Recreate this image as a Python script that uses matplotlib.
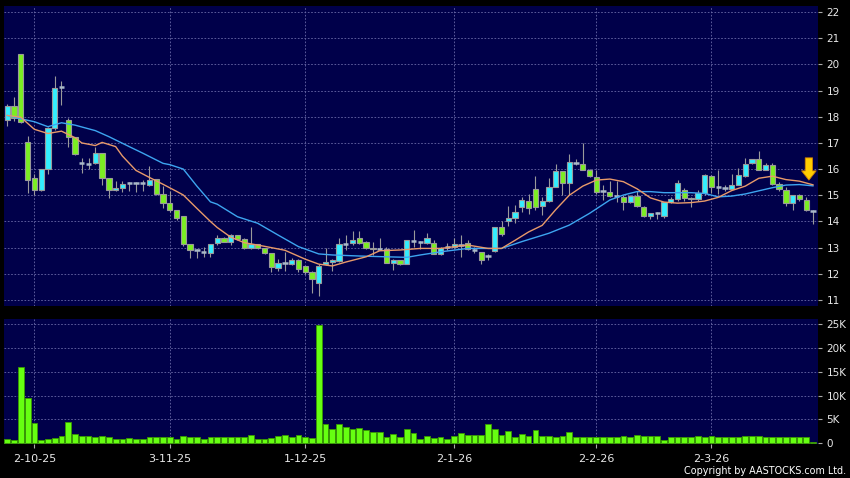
import numpy as np
import matplotlib
matplotlib.use('Agg')
import matplotlib.pyplot as plt
from matplotlib.patches import FancyArrowPatch
from matplotlib.ticker import FuncFormatter

# daily OHLC
opens = [17.88, 18.40, 20.38, 17.05, 15.67, 15.19, 15.99, 17.56, 19.13, 17.89,
         17.23, 16.22, 16.20, 16.22, 16.60, 15.67, 15.19, 15.27, 15.47, 15.47,
         15.46, 15.39, 15.64, 15.04, 14.70, 14.42, 14.19, 13.13, 12.91, 12.82,
         12.79, 13.17, 13.36, 13.21, 13.47, 13.33, 12.99, 13.12, 12.99, 12.79,
         12.23, 12.42, 12.38, 12.54, 12.28, 12.06, 11.65, 12.38, 12.44, 12.49,
         13.13, 13.18, 13.35, 13.23, 12.95, 12.96, 12.96, 12.42, 12.51, 12.38,
         13.26, 13.22, 13.19, 13.19, 12.77, 13.03, 13.03, 13.09, 13.18, 12.92,
         12.83, 12.67, 12.87, 13.77, 14.00, 14.15, 14.54, 14.79, 15.23, 14.59,
         14.79, 15.33, 15.91, 15.46, 16.23, 16.18, 15.95, 15.69, 15.18, 15.14,
         14.97, 14.95, 14.76, 14.97, 14.56, 14.21, 14.31, 14.21, 14.76, 14.86,
         15.21, 14.91, 14.85, 15.08, 15.74, 15.31, 15.26, 15.23, 15.40, 15.74,
         16.23, 16.38, 15.97, 16.15, 15.44, 15.21, 14.69, 15.00, 14.82, 14.41]
highs = [18.50, 18.75, 20.40, 17.28, 15.80, 16.00, 17.60, 19.57, 19.36, 17.95,
         17.23, 16.41, 16.41, 16.86, 16.60, 15.67, 15.55, 15.55, 15.50, 15.50,
         15.59, 16.13, 15.64, 15.36, 15.18, 14.45, 14.19, 13.13, 12.94, 13.04,
         13.12, 13.49, 13.40, 13.52, 13.50, 13.35, 13.78, 13.15, 13.00, 12.79,
         12.55, 12.82, 12.60, 12.56, 12.30, 12.10, 12.38, 13.00, 12.55, 13.35,
         13.48, 13.64, 13.64, 13.25, 13.20, 13.37, 13.03, 12.55, 12.52, 13.30,
         13.67, 13.26, 13.57, 13.28, 13.02, 13.18, 13.38, 13.50, 13.28, 13.03,
         12.85, 12.77, 13.78, 14.03, 14.59, 14.62, 14.95, 15.05, 15.74, 14.95,
         15.65, 16.19, 15.91, 16.59, 16.38, 17.00, 16.00, 15.95, 15.40, 15.55,
         15.55, 15.00, 15.00, 15.17, 14.60, 14.34, 14.37, 14.76, 14.95, 15.60,
         15.28, 14.95, 15.20, 15.82, 15.78, 15.97, 15.40, 15.83, 16.03, 16.43,
         16.40, 16.68, 16.23, 16.25, 15.52, 15.31, 15.02, 15.05, 14.95, 14.45]
lows = [17.65, 17.85, 17.75, 15.10, 15.00, 15.15, 15.80, 17.50, 18.45, 16.86,
        16.55, 15.84, 16.00, 16.20, 15.39, 14.91, 15.15, 15.14, 15.17, 15.14,
        15.15, 15.34, 15.00, 14.50, 14.35, 14.05, 13.07, 12.60, 12.60, 12.66,
        12.63, 13.10, 13.20, 13.10, 13.30, 12.95, 12.95, 12.95, 12.75, 12.08,
        12.12, 12.12, 12.35, 12.06, 12.00, 11.26, 11.17, 12.35, 12.09, 12.45,
        12.90, 13.10, 13.15, 12.95, 12.70, 12.90, 12.40, 12.15, 12.35, 12.36,
        13.03, 12.96, 13.15, 12.75, 12.72, 12.90, 13.00, 12.65, 12.90, 12.79,
        12.38, 12.51, 12.83, 13.45, 13.81, 13.95, 14.38, 14.28, 14.45, 14.25,
        14.75, 15.30, 15.01, 15.01, 16.15, 15.95, 15.70, 15.05, 14.82, 14.95,
        14.75, 14.45, 14.70, 14.55, 14.16, 14.08, 14.08, 14.14, 14.70, 14.80,
        14.80, 14.54, 14.80, 15.00, 15.10, 15.05, 15.18, 15.20, 15.38, 15.70,
        16.20, 15.95, 15.95, 15.40, 15.18, 14.60, 14.44, 14.80, 14.40, 13.90]
closes = [18.40, 17.96, 17.80, 15.57, 15.19, 15.99, 17.56, 19.08, 19.13, 17.23,
          16.58, 16.22, 16.20, 16.60, 15.67, 15.19, 15.27, 15.42, 15.47, 15.47,
          15.46, 15.57, 15.04, 14.70, 14.42, 14.12, 13.13, 12.91, 12.91, 12.82,
          13.12, 13.36, 13.21, 13.47, 13.33, 12.98, 13.12, 12.99, 12.79, 12.25,
          12.42, 12.42, 12.54, 12.19, 12.06, 11.81, 12.31, 12.45, 12.51, 13.12,
          13.13, 13.28, 13.19, 13.00, 12.99, 12.96, 12.42, 12.51, 12.38, 13.28,
          13.26, 13.22, 13.35, 12.77, 13.00, 13.03, 13.15, 13.09, 12.94, 12.92,
          12.51, 12.67, 13.77, 13.51, 14.15, 14.38, 14.82, 14.50, 14.56, 14.79,
          15.33, 15.91, 15.46, 16.29, 16.23, 15.97, 15.74, 15.13, 15.18, 14.97,
          14.97, 14.76, 14.97, 14.59, 14.21, 14.31, 14.31, 14.76, 14.86, 15.46,
          14.88, 14.85, 15.10, 15.78, 15.31, 15.31, 15.26, 15.40, 15.78, 16.21,
          16.38, 15.97, 16.15, 15.44, 15.23, 14.69, 15.00, 14.85, 14.44, 14.41]
volumes = [900, 700, 16000, 9400, 4300, 600, 800, 1100, 1500, 4500,
           1900, 1500, 1500, 1300, 1500, 1300, 1000, 1000, 1100, 1000,
           1000, 1300, 1300, 1300, 1400, 1000, 1500, 1300, 1300, 800,
           1300, 1300, 1300, 1400, 1300, 1300, 1700, 800, 1000, 1100,
           1500, 1700, 1300, 1800, 1300, 1200, 24800, 4000, 2900, 4100,
           3400, 3000, 3200, 2700, 2400, 2300, 1400, 2000, 1300, 2900,
           2100, 1000, 1500, 1200, 1300, 800, 1500, 2100, 1700, 1700,
           1700, 4100, 3100, 1700, 2600, 1400, 1900, 1500, 2800, 1500,
           1500, 1400, 1500, 2300, 1300, 1300, 1300, 1300, 1300, 1300,
           1300, 1500, 1400, 1700, 1500, 1500, 1500, 700, 1300, 1300,
           1300, 1300, 1500, 1300, 1500, 1400, 1400, 1400, 1400, 1600,
           1500, 1500, 1300, 1300, 1300, 1300, 1300, 1300, 1400, 300]

# moving averages (orange = short, blue = long)
ma_short_idx = [0, 2, 4, 6, 8, 10, 11, 13, 14, 16, 17, 19, 21, 23, 25, 26, 28, 30, 31, 33,
                35, 38, 41, 44, 46, 48, 50, 53, 55, 58, 61, 64, 68, 71, 73, 75, 77, 79, 81, 83,
                85, 87, 89, 91, 93, 95, 97, 99, 101, 103, 105, 107, 109, 111, 113, 115, 117, 119]
ma_short_val = [18.05, 17.98, 17.52, 17.36, 17.45, 17.20, 17.00, 16.90, 17.02, 16.86,
                16.50, 15.95, 15.68, 15.42, 15.15, 15.01, 14.50, 14.00, 13.77, 13.40,
                13.19, 13.05, 12.90, 12.56, 12.37, 12.30, 12.45, 12.65, 12.88, 12.91,
                12.97, 12.97, 13.10, 12.97, 12.97, 13.28, 13.60, 13.85, 14.45, 15.00,
                15.35, 15.58, 15.62, 15.52, 15.25, 14.90, 14.74, 14.70, 14.72, 14.78,
                14.92, 15.18, 15.35, 15.65, 15.73, 15.60, 15.54, 15.40]
ma_long_idx = [0, 2, 4, 6, 8, 10, 13, 15, 18, 20, 23, 24, 26, 28, 30, 31, 34, 37, 40, 43,
               46, 48, 52, 56, 59, 61, 64, 68, 71, 73, 76, 80, 83, 86, 89, 91, 93, 95, 97, 99,
               101, 103, 105, 107, 109, 111, 113, 115, 117, 119]
ma_long_val = [18.05, 17.92, 17.81, 17.62, 17.77, 17.68, 17.47, 17.24, 16.86, 16.61,
               16.22, 16.17, 16.00, 15.35, 14.75, 14.66, 14.18, 13.93, 13.48, 13.04,
               12.76, 12.72, 12.68, 12.65, 12.63, 12.72, 12.84, 12.97, 12.97, 12.97,
               13.23, 13.55, 13.86, 14.31, 14.82, 15.01, 15.14, 15.14, 15.10, 15.10,
               15.10, 15.07, 14.94, 14.97, 15.05, 15.17, 15.29, 15.39, 15.41, 15.36]

date_labels = ['2-10-25', '3-11-25', '1-12-25', '2-1-26', '2-2-26', '2-3-26']
date_idx = [4, 24, 44, 66, 87, 104]

BG = '#00004a'
UP = '#33eeff'
DOWN = '#7bee22'
EDGE = '#9a9a9a'
GRID = '#6a6aa8'
TXT = '#e8e8e8'


def style_axis(ax):
    ax.set_facecolor(BG)
    for s in ax.spines.values():
        s.set_visible(False)
    ax.yaxis.tick_right()
    ax.tick_params(axis='y', colors='#aaaaaa', labelcolor=TXT, labelsize=7.5, length=3, pad=3)
    ax.grid(True, color=GRID, linestyle=(0, (2, 2)), linewidth=0.6)
    ax.set_axisbelow(True)
    ax.set_xticks(date_idx)
    ax.set_xlim(-0.49, 119.75)


def draw_price(ax):
    x = np.arange(len(closes))
    o = np.array(opens)
    c = np.array(closes)
    up = c > o
    down = c < o
    flat = c == o
    ax.vlines(x, lows, highs, color=EDGE, lw=0.8, zorder=2)
    ax.bar(x[up], (c - o)[up], bottom=o[up], width=0.78, color=UP, edgecolor=EDGE, lw=0.8, zorder=3)
    ax.bar(x[down], (o - c)[down], bottom=c[down], width=0.78, color=DOWN, edgecolor=EDGE, lw=0.8, zorder=3)
    ax.hlines(c[flat], x[flat] - 0.39, x[flat] + 0.39, color='#a8b8c8', lw=1.8, zorder=3)
    ax.plot(ma_long_idx, ma_long_val, color='#3da5f0', lw=1.0, zorder=4)
    ax.plot(ma_short_idx, ma_short_val, color='#e89a6a', lw=1.0, zorder=4)

    ax.set_ylim(10.77, 22.23)
    ax.set_yticks(np.arange(11, 23))
    ax.tick_params(axis='x', length=0, labelbottom=False)

    # yellow marker pointing at the latest bar
    tip = ma_short_val[-1] + 0.18
    arr = FancyArrowPatch((len(closes) - 1.6, tip + 0.85), (len(closes) - 1.6, tip),
                          arrowstyle='simple,head_length=0.95,head_width=1.5,tail_width=0.75',
                          mutation_scale=7, facecolor='#ffcc00', edgecolor='#d08000',
                          lw=0.6, shrinkA=0, shrinkB=0, zorder=6)
    ax.add_patch(arr)


def draw_volume(ax):
    x = np.arange(len(volumes))
    ax.bar(x, volumes, width=0.85, color='#66ff11', edgecolor='#3a9a00', lw=0.6, zorder=3)
    ax.set_ylim(-150, 26060)
    ax.set_yticks(np.arange(0, 25001, 5000))
    ax.yaxis.set_major_formatter(FuncFormatter(lambda v, p: '0' if v == 0 else '%dK' % (v / 1000)))
    ax.set_xticklabels(date_labels)
    ax.tick_params(axis='x', colors='#aaaaaa', labelcolor=TXT, labelsize=8, length=3, pad=4)


def main():
    fig = plt.figure(figsize=(8.5, 4.78), dpi=100, facecolor='black')
    ax = fig.add_axes([0.0047, 0.3598, 0.9577, 0.6276])
    ax2 = fig.add_axes([0.0047, 0.0711, 0.9577, 0.2615])
    style_axis(ax)
    style_axis(ax2)
    draw_price(ax)
    draw_volume(ax2)
    fig.text(0.9953, 0.0146, 'Copyright by AASTOCKS.com Ltd.', ha='right', va='center',
             color='white', fontsize=6.9)
    fig.savefig('out.png', dpi=100, facecolor='black')


if __name__ == '__main__':
    main()
